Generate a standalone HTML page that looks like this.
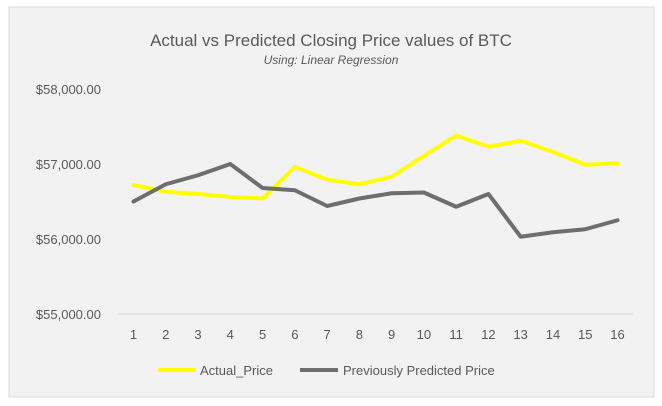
<!DOCTYPE html>
<html><head><meta charset="utf-8"><style>
body{margin:0;background:#fff;}
svg{display:block;font-family:"Liberation Sans",sans-serif;}
</style></head><body>
<svg id="chart" width="662" height="406">
<rect x="9" y="7" width="645" height="390" fill="#f2f2f2" stroke="#d9d9d9"/>
<text x="331" y="46" text-anchor="middle" font-size="17" fill="#595959">Actual vs Predicted Closing Price values of BTC</text>
<text x="331" y="64" text-anchor="middle" font-size="12" font-style="italic" fill="#595959">Using: Linear Regression</text>
<g id="yaxis"></g><g id="xaxis"></g><g id="series"></g>
<g>
<line x1="158" y1="370" x2="196" y2="370" stroke="#ffff00" stroke-width="4"/>
<text x="200" y="375" font-size="13" fill="#595959">Actual_Price</text>
<line x1="300" y1="370" x2="338" y2="370" stroke="#6e6e6e" stroke-width="4"/>
<text x="343" y="375" font-size="13" fill="#595959">Previously Predicted Price</text>
</g>
</svg>
<script>
const categories=["1","2","3","4","5","6","7","8","9","10","11","12","13","14","15","16"];
const actualPrice=[56720,56630,56600,56560,56540,56960,56790,56730,56830,57110,57380,57230,57310,57160,56990,57010];
const predictedPrice=[56500,56730,56850,57000,56680,56650,56440,56540,56610,56620,56430,56600,56030,56090,56130,56250];
const yTicks=[55000,56000,57000,58000];
const yTickLabels=["$55,000.00","$56,000.00","$57,000.00","$58,000.00"];
const NS="http://www.w3.org/2000/svg";
const yMin=55000,yMax=58000,yBot=314,yTop=89;
function yScale(v){return yBot-(v-yMin)/(yMax-yMin)*(yBot-yTop);}
function xScale(i){return 133.5+i*(617.5-133.5)/(categories.length-1);}
function mk(tag,attrs,parent){const e=document.createElementNS(NS,tag);for(const k in attrs)e.setAttribute(k,attrs[k]);parent.appendChild(e);return e;}
const ya=document.getElementById('yaxis'),xa=document.getElementById('xaxis'),sg=document.getElementById('series');
yTicks.forEach((t,i)=>{
 const tx=mk('text',{x:101,y:yScale(t)+5,'text-anchor':'end','font-size':'13',fill:'#595959'},ya);
 tx.textContent=yTickLabels[i];
 
 
});
const ax=mk('line',{x1:118,x2:633,y1:yBot,y2:yBot,stroke:'#d9d9d9','stroke-width':1},xa);


categories.forEach((c,i)=>{
 const tx=mk('text',{x:xScale(i),y:339,'text-anchor':'middle','font-size':'13',fill:'#595959'},xa);
 tx.textContent=c;
 
 
});
function line(vals,color,name){
 const p=mk('polyline',{points:vals.map((v,i)=>xScale(i)+','+yScale(v)).join(' '),fill:'none',stroke:color,'stroke-width':4,'stroke-linejoin':'round','stroke-linecap':'round'},sg);
 
 
}
line(actualPrice,'#ffff00','actual-price-line');
line(predictedPrice,'#6e6e6e','predicted-price-line');
</script>
</body></html>
